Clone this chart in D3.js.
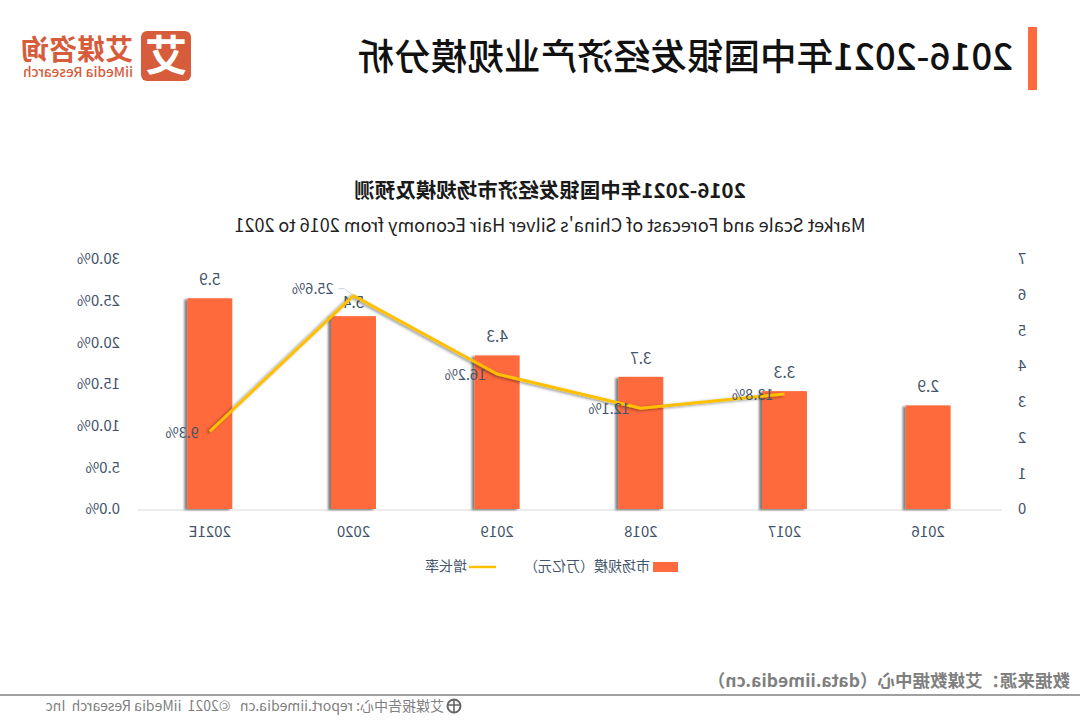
<!DOCTYPE html>
<html lang="zh">
<head>
<meta charset="utf-8">
<script src="https://cdn.jsdelivr.net/npm/d3@7"></script>
<style>
  html, body { margin: 0; background: #fff; }
  svg { display: block; }
  text { font-family: "Noto Sans CJK SC", "Noto Sans", sans-serif; }
</style>
</head>
<body>
<div id="chart"></div>
<script>
// Market scale and growth series, 2016 to 2021E
const years = ["2016", "2017", "2018", "2019", "2020", "2021E"];
const marketScale = [2.9, 3.3, 3.7, 4.3, 5.4, 5.9];
const growthRate = [null, 13.8, 12.1, 16.2, 25.6, 9.3];
const scaleTicks = [0, 1, 2, 3, 4, 5, 6, 7];
const rateTicks = [0, 5, 10, 15, 20, 25, 30];
const pageTitle = "2016-2021年中国银发经济产业规模分析";
const chartTitle = "2016-2021年中国银发经济市场规模及预测";
const chartSubtitle = "Market Scale and Forecast of China's Silver Hair Economy from 2016 to 2021";
const legendBar = "市场规模（万亿元）";
const legendLine = "增长率";
const sourceNote = "数据来源：艾媒数据中心（data.iimedia.cn）";
const footerNote = "艾媒报告中心: report.iimedia.cn   ©2021  iiMedia Research  Inc";

const W = 1080, H = 720;
const ORANGE = "#ff6b3d", GOLD = "#ffc000", INK = "#44546a", BRAND = "#d65c3b";

const root = d3.select("#chart").append("svg").attr("width", W).attr("height", H);

// Soft drop shadows under the bars and the line
const defs = root.append("defs");
[["barShadow", 3, 0.5, 1.2], ["lineShadow", 2, 0.45, 1.4]].forEach(([id, dx, op, blur]) => {
  defs.append("filter").attr("id", id)
      .attr("x", "-30%").attr("y", "-30%").attr("width", "160%").attr("height", "160%")
    .append("feDropShadow")
      .attr("dx", dx).attr("dy", 1).attr("stdDeviation", blur)
      .attr("flood-color", "#000").attr("flood-opacity", op);
});

// The whole page is drawn as a mirror image
const svg = root.append("g").attr("transform", `translate(${W},0) scale(-1,1)`);

const x = d3.scaleBand().domain(years).range([80, 942]).paddingInner(0.687).paddingOuter(0.3435);
const yScale = d3.scaleLinear().domain([0, 7]).range([509, 259]);
const yRate = d3.scaleLinear().domain([0, 30]).range([509, 259]);
const cx = d => x(d) + x.bandwidth() / 2;

// Header
svg.append("rect").attr("x", 43).attr("y", 27).attr("width", 9).attr("height", 63).attr("fill", ORANGE);
svg.append("text").attr("x", 67).attr("y", 70).attr("font-size", 36.6).attr("font-weight", 500)
   .attr("fill", "#111").text(pageTitle);

// Brand mark
const logo = svg.append("g");
logo.append("rect").attr("x", 889).attr("y", 31).attr("width", 50).attr("height", 50).attr("rx", 6).attr("fill", BRAND);
logo.append("text").attr("x", 914).attr("y", 71).attr("text-anchor", "middle")
    .attr("font-size", 42).attr("font-weight", 700).attr("fill", "#fff").text("艾");
logo.append("text").attr("x", 947).attr("y", 60).attr("font-size", 28).attr("font-weight", 700)
    .attr("fill", BRAND).text("艾媒咨询");
logo.append("text").attr("x", 947).attr("y", 77).attr("font-size", 13.5).attr("font-weight", 500)
    .attr("fill", BRAND).attr("textLength", 110).text("iiMedia Research");

// Chart titles
svg.append("text").attr("x", 530).attr("y", 198).attr("text-anchor", "middle")
   .attr("font-size", 20.5).attr("font-weight", 700).attr("fill", "#1a1a1a").text(chartTitle);
svg.append("text").attr("x", 530).attr("y", 232).attr("text-anchor", "middle")
   .attr("font-size", 18).attr("fill", "#222").text(chartSubtitle);

// Axes
const axisFont = g => g.call(s => s.select(".domain").remove())
  .selectAll("text").attr("fill", INK).attr("font-size", 15)
  .style("font-family", '"Noto Sans CJK SC", "Noto Sans", sans-serif');

svg.append("g").attr("transform", "translate(58,0)")
   .call(d3.axisRight(yScale).tickValues(scaleTicks).tickSize(0).tickPadding(0).tickFormat(d3.format("d")))
   .call(axisFont)
   .call(g => g.selectAll("text").attr("text-anchor", "middle"));

svg.append("g").attr("transform", "translate(960,0)")
   .call(d3.axisRight(yRate).tickValues(rateTicks).tickSize(0).tickPadding(0).tickFormat(d => d3.format(".1f")(d) + "%"))
   .call(axisFont);

svg.append("line").attr("x1", 78).attr("x2", 942).attr("y1", 510).attr("y2", 510)
   .attr("stroke", "#d9d9d9").attr("stroke-width", 1);

svg.append("g").attr("transform", "translate(0,509)")
   .call(d3.axisBottom(x).tickSize(0).tickPadding(17))
   .call(axisFont);

// Bars
svg.append("g").selectAll("rect").data(years).join("rect")
   .attr("x", d => x(d))
   .attr("y", (d, i) => yScale(marketScale[i]))
   .attr("width", x.bandwidth())
   .attr("height", (d, i) => yScale(0) - yScale(marketScale[i]))
   .attr("fill", ORANGE)
   .attr("filter", "url(#barShadow)");

// Bar value labels; the 2020 one sits lower so it clears the line's peak
svg.append("g").selectAll("text").data(years).join("text")
   .attr("x", cx)
   .attr("y", (d, i) => yScale(marketScale[i]) - (d === "2020" ? 8 : 13))
   .attr("text-anchor", "middle").attr("font-size", 15.5).attr("fill", INK)
   .text((d, i) => d3.format(".1f")(marketScale[i]));

// Growth line
const ratePoints = years.map((d, i) => ({ year: d, rate: growthRate[i] })).filter(d => d.rate !== null);
const peak = ratePoints.reduce((a, b) => (b.rate > a.rate ? b : a));

svg.append("path").datum(ratePoints)
   .attr("fill", "none").attr("stroke", GOLD).attr("stroke-width", 3).attr("stroke-linejoin", "round")
   .attr("filter", "url(#lineShadow)")
   .attr("d", d3.line().x(d => cx(d.year)).y(d => yRate(d.rate)));

// Leader from the peak to its label
svg.append("path")
   .attr("fill", "none").attr("stroke", "#c9d2de").attr("stroke-width", 1)
   .attr("d", `M${cx(peak.year)},${yRate(peak.rate)} l9,-7 h6`);

svg.append("g").selectAll("text").data(ratePoints).join("text")
   .attr("x", d => cx(d.year) + (d === peak ? 20 : 11))
   .attr("y", d => yRate(d.rate) + (d === peak ? -2 : 6))
   .attr("font-size", 14.5).attr("fill", INK)
   .text(d => d3.format(".1f")(d.rate) + "%");

// Legend
svg.append("rect").attr("x", 402).attr("y", 562).attr("width", 25).attr("height", 10).attr("fill", ORANGE);
svg.append("text").attr("x", 430).attr("y", 571).attr("font-size", 14).attr("fill", INK).text(legendBar);
svg.append("line").attr("x1", 584).attr("x2", 611).attr("y1", 567).attr("y2", 567)
   .attr("stroke", GOLD).attr("stroke-width", 2.5);
svg.append("text").attr("x", 613).attr("y", 571).attr("font-size", 14).attr("fill", INK).text(legendLine);

// Footer
svg.append("line").attr("x1", 0).attr("x2", W).attr("y1", 695).attr("y2", 695)
   .attr("stroke", "#808080").attr("stroke-width", 1.6);
svg.append("text").attr("x", 10).attr("y", 687).attr("font-size", 17.5).attr("font-weight", 700)
   .attr("fill", "#7f7f7f").text(sourceNote);

const globe = svg.append("g").attr("transform", "translate(626,706)")
   .attr("fill", "none").attr("stroke", "#666");
globe.append("circle").attr("r", 6.5).attr("stroke-width", 2);
globe.append("path").attr("stroke-width", 1.6).attr("d", "M-6,-1 H6 M0,-6 V6");

svg.append("text").attr("x", 636).attr("y", 711).attr("font-size", 14)
   .attr("fill", "#7f7f7f").attr("xml:space", "preserve").style("white-space", "pre").text(footerNote);
</script>
</body>
</html>
